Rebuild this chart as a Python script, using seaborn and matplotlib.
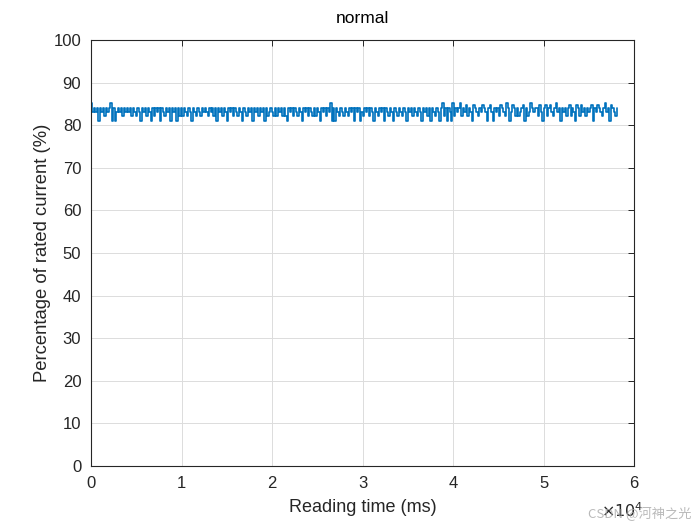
import numpy as np
import pandas as pd
import matplotlib
matplotlib.use("Agg")
import matplotlib.pyplot as plt
import seaborn as sns
from matplotlib.ticker import FuncFormatter

# current readings, one letter per sample
level_of = {"a": 84.0, "b": 83.2, "s": 82.2, "l": 81.0, "h": 84.8, "u": 85.2}
segments = [
    "ubabalabasabaulalbabasababasabsablabasablasabalabsabalabalas",
    "asabsablabsabsababsabasalabasablabasabsablabsabalabasabalasb",
    "absasabasaslabasabsablabasabsasablabasabulalabsabsabsabalab",
    "albsabasablabsabalabsablabsabsablabasabsablabasalabsablausal",
    "ablusabausabhsablhabsabhablahblabashabsualbhasasbahlasbuaba",
    "ashblahsahbsaubalabasahsablhashbasabahlabhabsaubalhabsa",
]
sample_step_ms = 165
x_ticks = [0, 1, 2, 3, 4, 5, 6]
y_ticks = [0, 10, 20, 30, 40, 50, 60, 70, 80, 90, 100]

codes = "".join(segments)
readings = [level_of[c] for c in codes]
times = np.arange(len(readings)) * sample_step_ms
df = pd.DataFrame({"time": times, "current": readings})

sns.set_style("white")
plt.rcParams["font.family"] = ["Liberation Sans", "DejaVu Sans"]

fig = plt.figure(figsize=(7, 5.25), dpi=100)
ax = fig.add_axes([0.13, 0.1124, 0.776, 0.8114])

sns.lineplot(data=df, x="time", y="current", ax=ax, color="#0072BD",
             linewidth=1.2, estimator=None, sort=False, drawstyle="steps-post")

ax.set_xlim(0, 60000)
ax.set_ylim(0, 100)
ax.set_xticks([t * 10000 for t in x_ticks])
ax.xaxis.set_major_formatter(FuncFormatter(lambda v, p: f"{v / 10000:g}"))
ax.set_yticks(y_ticks)

ax.grid(True, color="#dcdcdc", linewidth=0.7)
ax.set_axisbelow(True)
for s in ax.spines.values():
    s.set_color("#262626")
    s.set_linewidth(0.8)
ax.tick_params(direction="in", length=4, width=0.7, colors="#262626",
               labelsize=12, top=True, right=True, pad=7)

ax.set_xlabel("Reading time (ms)", fontsize=13, color="#262626", labelpad=6)
ax.set_ylabel("Percentage of rated current (%)", fontsize=13.3, color="#262626", labelpad=2)
ax.set_title("normal", fontsize=12.5, color="#000000", pad=12)

fig.text(0.858, 0.016, r"$\times10^{4}$", fontsize=11.5, color="#262626")
fig.text(0.84, 0.014, "CSDN @河神之光", fontsize=9.5, color="#a8a8a8", alpha=0.8,
         family=["Noto Sans CJK SC", "DejaVu Sans"])

fig.savefig("out.png", dpi=100)
